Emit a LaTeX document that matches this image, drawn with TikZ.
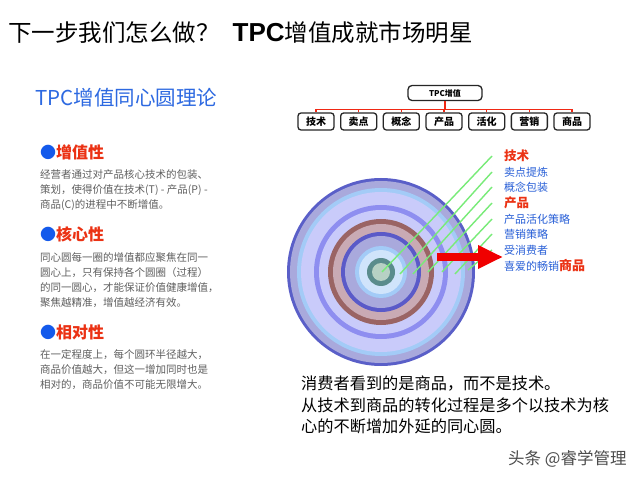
\documentclass[tikz,border=0pt]{standalone}
\usepackage{fontspec}
\setmainfont{Noto Sans CJK SC}
\newfontfamily\latfont{Liberation Sans}
\usetikzlibrary{arrows.meta,positioning,calc}

\definecolor{tpcblue}{RGB}{45,105,225}
\definecolor{hdred}{RGB}{235,50,20}
\definecolor{bulblue}{RGB}{20,90,235}
\definecolor{bodygray}{RGB}{95,95,95}
\definecolor{lblblue}{RGB}{40,95,215}
\definecolor{linkred}{RGB}{240,40,20}
\definecolor{raygreen}{RGB}{120,235,120}
\definecolor{arrred}{RGB}{240,0,0}
\definecolor{rimA}{HTML}{5A5FC8}
\definecolor{ringA}{HTML}{A9A9DC}
\definecolor{ringB}{HTML}{A3CBF7}
\definecolor{ringC}{HTML}{C9CBFA}
\definecolor{ringD}{HTML}{8E8EF0}
\definecolor{ringE}{HTML}{9A6464}
\definecolor{ringF}{HTML}{C9AAB4}
\definecolor{ringG}{HTML}{5A5AC8}
\definecolor{ringH}{HTML}{D0E4FB}
\definecolor{ringI}{HTML}{5A8C8C}
\definecolor{ringJ}{HTML}{B7D1C4}

\begin{document}
\begin{tikzpicture}[
    x=1pt, y=-1pt,
    every node/.style={inner sep=0pt},
    hd/.style={anchor=west, text=hdred, font=\fontsize{16}{18}\selectfont\bfseries},
    body/.style={align=left, text=bodygray, font=\fontsize{10.5}{15}\selectfont},
    rootbox/.style={draw=black!85, line width=1.3pt, rounded corners=4pt, fill=white,
        minimum width=74pt, minimum height=15pt, font=\fontsize{8}{9}\selectfont\bfseries},
    leafbox/.style={draw=black!85, line width=1.3pt, rounded corners=3pt, fill=white,
        minimum width=36pt, minimum height=17pt, font=\fontsize{10}{11}\selectfont\bfseries},
    branch/.style={draw=linkred, line width=1.2pt},
    ray/.style={draw=raygreen, line width=1.4pt},
    lbl/.style={anchor=west, text=lblblue, font=\fontsize{11}{12}\selectfont},
    keylbl/.style={anchor=west, text=hdred, font=\fontsize{12.5}{13}\selectfont\bfseries}
]
    \fill[white] (0,0) rectangle (640,481);
    \useasboundingbox (0,0) rectangle (640,481);

    \node[anchor=west, font=\fontsize{23.5}{26}\selectfont] (title) at (8,33)
        {下一步我们怎么做？\hspace{13pt}{\latfont\bfseries\fontsize{26}{27}\selectfont TPC}增值成就市场明星};

    \node[anchor=west, text=tpcblue, font=\fontsize{20.5}{23}\selectfont] (sub) at (35,98) {TPC增值同心圆理论};

    \node[hd] (h1) at (40,152) {\textcolor{bulblue}{●}增值性};
    \node[body, below=10pt of h1.south west, anchor=north west] (b1)
        {经营者通过对产品核心技术的包装、\\策划，使得价值在技术(T) - 产品(P) -\\商品(C)的进程中不断增值。};
    \node[hd] (h2) at (40,234) {\textcolor{bulblue}{●}核心性};
    \node[body, below=10pt of h2.south west, anchor=north west] (b2)
        {同心圆每一圈的增值都应聚焦在同一\\圆心上，只有保持各个圆圈（过程）\\的同一圆心，才能保证价值健康增值，\\聚焦越精准，增值越经济有效。};
    \node[hd] (h3) at (40,332) {\textcolor{bulblue}{●}相对性};
    \node[body, below=10pt of h3.south west, anchor=north west] (b3)
        {在一定程度上，每个圆环半径越大，\\商品价值越大，但这一增加同时也是\\相对的，商品价值不可能无限增大。};

    \node[rootbox] (root) at (445,93) {TPC增值};
    \foreach \t [count=\i from 0] in {技术,卖点,概念,产品,活化,营销,商品} {
        \node[leafbox] (t\i) at (316+42.67*\i,121.5) {\t};
        \draw[branch] (root.south) -- ++(0,8) -| (t\i.north);
    }

    \coordinate (ctr) at (381,272);
    \fill[rimA] (ctr) circle (94pt);
    \foreach \r/\c in {91/ringA,84/ringB,80/ringC,67/ringD,62/ringC,53/ringE,48/ringF,
                       40/ringG,36/ringA,26/ringB,22/ringH,14/ringI,9/ringJ}
        \fill[\c] (ctr) circle (\r pt);

    \node[keylbl] (l1) at (504,156) {技术};
    \node[lbl] (l2) at (504,172) {卖点提炼};
    \node[lbl] (l3) at (504,187) {概念包装};
    \node[keylbl] (l4) at (504,203) {产品};
    \node[lbl] (l5) at (504,219) {产品活化策略};
    \node[lbl] (l6) at (504,234) {营销策略};
    \node[lbl] (l7) at (504,250) {受消费者};
    \node[lbl] (l8) at (504,266) {喜爱的畅销{\color{hdred}\fontsize{13}{14}\selectfont\bfseries 商品}};

    \foreach \sx/\sy [count=\k] in {382/272,400/274,413/274,428/272,442/272,455/274,468/270}
        \draw[ray] (\sx,\sy) -- ([xshift=-12pt]l\k.west);

    \coordinate (arrS) at (437,257);
    \coordinate (arrE) at (503,257);
    \draw[arrred, line width=8pt, -{Triangle[length=25pt,width=22pt]}] (arrS) -- (arrE);

    \node[anchor=north west, align=left, font=\fontsize{16.2}{21.5}\selectfont] (note) at (301,376)
        {消费者看到的是商品，而不是技术。\\从技术到商品的转化过程是多个以技术为核\\心的不断增加外延的同心圆。};

    \node[anchor=west, text=black!70, font=\fontsize{16.5}{18}\selectfont] (mark) at (508,459) {头条 @睿学管理};
\end{tikzpicture}
\end{document}
